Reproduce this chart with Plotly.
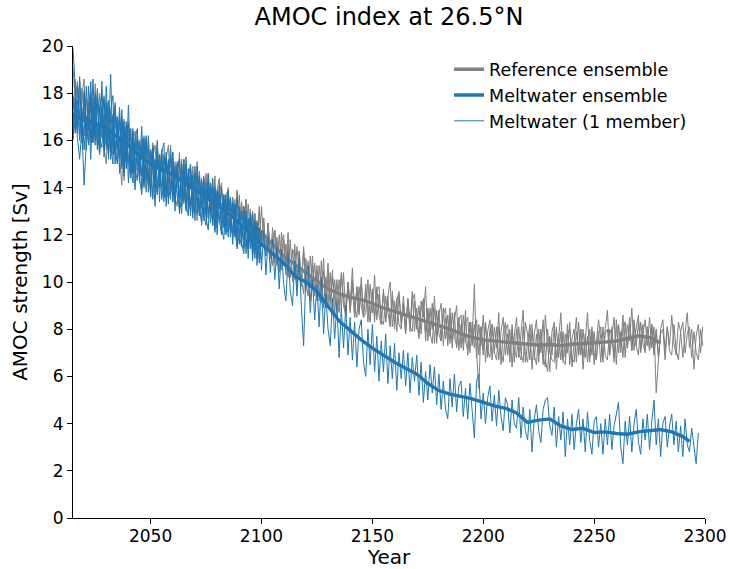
import plotly.graph_objects as go

# ---------------- data ----------------
gray_mean_years = list(range(2015, 2281, 5))
gray_mean = [17.4, 17.0, 16.75, 16.45, 16.15, 15.8, 15.35, 15.0, 14.8, 14.55,
             14.3, 14.0, 13.7, 13.4, 13.1, 12.8, 12.45, 12.1, 11.6, 11.1,
             10.75, 10.4, 10.05, 9.7, 9.5, 9.35, 9.25, 9.1, 8.9, 8.75,
             8.6, 8.45, 8.3, 8.15, 8.0, 7.8, 7.65, 7.55, 7.5, 7.45,
             7.42, 7.38, 7.32, 7.35, 7.3, 7.36, 7.38, 7.42, 7.45, 7.5,
             7.62, 7.72, 7.65, 7.4]

blue_mean_years = list(range(2015, 2291, 5)) + [2293]
blue_mean = [17.1, 16.85, 16.7, 16.55, 16.15, 15.8, 15.35, 15.0, 14.75, 14.55,
             14.2, 13.9, 13.6, 13.25, 12.9, 12.5, 12.05, 11.6, 11.2, 10.8,
             10.25, 10.0, 9.6, 8.95, 8.35, 7.95, 7.55, 7.2, 6.9, 6.6,
             6.35, 6.1, 5.7, 5.4, 5.25, 5.15, 5.05, 4.9, 4.75, 4.65,
             4.45, 4.05, 4.15, 4.2, 3.9, 3.75, 3.8, 3.62, 3.65, 3.58,
             3.55, 3.65, 3.7, 3.75, 3.65, 3.45, 3.25]

# reference ensemble members, yearly from 2015
ref_member_1 = [
    19.1, 17.6, 18.5, 16.4, 18.2, 16.9, 17.8, 15.9, 17.6, 16.2,
    18.4, 15.8, 17.5, 16.1, 17.9, 15.6, 17.2, 15.3, 16.9, 17.5,
    15.1, 16.9, 14.8, 16.6, 15.3, 16.8, 14.5, 16.2, 14.9, 16.3,
    14.2, 16.1, 15.0, 13.9, 16.0, 14.6, 15.7, 13.8, 15.9, 14.4,
    15.6, 13.7, 15.3, 14.2, 15.8, 13.4, 15.1, 14.0, 15.5, 13.6,
    15.2, 13.3, 14.6, 13.0, 14.9, 13.8, 12.6, 14.7, 13.1, 14.5,
    12.8, 14.6, 13.2, 14.3, 12.5, 13.9, 14.4, 12.3, 13.7, 12.7,
    14.0, 12.4, 13.6, 12.0, 13.9, 12.6, 13.3, 11.8, 13.5, 12.2,
    13.0, 11.6, 12.9, 11.8, 13.2, 11.5, 12.7, 11.2, 12.5, 11.0,
    12.3, 10.8, 11.9, 10.5, 12.1, 10.7, 11.6, 10.2, 11.8, 10.0,
    11.6, 10.2, 11.3, 9.8, 11.5, 10.0, 9.4, 11.1, 9.7, 10.8,
    9.2, 10.7, 9.6, 11.0, 8.9, 10.3, 9.1, 10.5, 8.6, 10.1,
    8.8, 10.4, 9.3, 8.6, 10.0, 9.1, 10.6, 8.5, 9.8, 8.7,
    10.2, 8.6, 9.6, 8.3, 9.9, 8.7, 10.3, 8.4, 9.5, 8.2,
    9.7, 8.3, 9.4, 10.0, 8.1, 9.2, 7.9, 9.5, 8.4, 9.1,
    7.8, 9.3, 8.2, 9.6, 7.9, 8.9, 7.6, 9.2, 8.5, 9.8,
    7.5, 8.9, 8.0, 9.4, 7.4, 8.6, 9.1, 7.3, 8.5, 7.6,
    8.9, 7.2, 8.4, 9.0, 7.1, 8.2, 7.4, 8.8, 6.9, 8.3,
    7.5, 9.9, 6.8, 8.2, 7.3, 8.6, 6.6, 7.9, 8.4, 6.7,
    8.1, 7.2, 8.7, 6.5, 7.8, 8.3, 6.9, 8.0, 6.4, 7.7,
    8.5, 6.8, 7.9, 8.8, 6.6, 7.5, 8.2, 6.3, 7.8, 8.4,
    6.9, 8.0, 6.5, 8.6, 7.2, 6.2, 7.9, 8.3, 6.8, 7.6,
    8.7, 6.6, 7.8, 7.0, 8.3, 6.4, 7.5, 8.5, 6.9, 8.0,
    6.3, 7.6, 8.7, 6.8, 7.9, 6.5, 7.4, 8.4, 7.6, 6.6,
    8.0, 8.8, 6.9, 7.7, 8.5, 6.5, 8.1, 7.3, 8.6, 6.8,
    8.2, 7.5, 8.9, 7.1, 8.1, 8.6, 7.0, 7.8, 8.4, 7.3,
    8.5, 7.2, 8.1, 5.3, 6.9, 8.0, 8.4, 7.1, 8.1, 7.3,
    8.6, 7.4, 6.9, 8.3, 7.9, 6.8, 7.8, 8.7, 7.2, 8.0,
    6.3, 7.7, 8.2, 7.0, 8.1]

ref_member_2 = [
    17.3, 18.6, 16.7, 17.9, 15.9, 18.0, 16.4, 17.6, 15.8, 17.3,
    16.0, 17.9, 15.5, 17.4, 16.3, 17.0, 15.4, 17.2, 15.7, 16.5,
    17.0, 15.2, 16.6, 14.3, 16.4, 15.0, 16.5, 14.6, 16.1, 15.2,
    14.4, 16.0, 14.9, 13.8, 15.7, 14.3, 15.9, 14.0, 15.3, 14.5,
    15.6, 13.6, 15.2, 15.8, 13.9, 15.0, 13.4, 14.9, 13.7, 15.2,
    13.5, 14.7, 13.1, 15.0, 13.3, 14.6, 13.6, 12.8, 14.4, 13.3,
    14.6, 12.7, 14.2, 13.0, 14.5, 12.5, 13.8, 14.2, 12.3, 13.7,
    13.9, 12.1, 13.6, 12.5, 13.8, 11.9, 13.4, 12.4, 13.5, 11.8,
    13.1, 11.6, 12.9, 11.9, 11.4, 13.2, 11.7, 11.1, 12.5, 11.0,
    11.9, 12.2, 10.7, 12.0, 10.5, 11.8, 10.6, 12.1, 10.2, 11.4,
    10.1, 11.5, 10.4, 9.9, 11.3, 9.6, 10.9, 9.8, 11.1, 9.4,
    10.7, 9.7, 9.1, 10.5, 9.4, 10.8, 9.0, 10.2, 9.3, 8.8,
    10.1, 8.9, 10.4, 8.6, 9.9, 8.7, 10.1, 9.0, 8.5, 9.8,
    9.0, 8.5, 9.9, 8.8, 8.3, 9.7, 8.6, 9.6, 9.8, 8.4,
    8.2, 9.4, 8.7, 8.1, 9.6, 8.3, 9.3, 8.2, 8.0, 9.4,
    8.1, 9.1, 7.9, 9.2, 9.5, 8.0, 9.0, 7.8, 9.3, 7.9,
    8.9, 7.7, 9.1, 7.4, 8.8, 7.8, 7.5, 8.9, 7.6, 8.6,
    7.4, 8.7, 7.7, 7.3, 8.5, 7.2, 8.6, 7.5, 7.1, 8.3,
    7.3, 8.2, 7.0, 5.5, 8.1, 6.9, 8.3, 7.1, 6.8, 8.2,
    7.0, 8.1, 6.7, 7.9, 8.5, 6.9, 7.8, 6.6, 8.2, 7.1,
    6.8, 8.1, 7.0, 6.6, 8.3, 7.8, 6.7, 8.0, 6.9, 6.5,
    8.0, 7.0, 8.4, 6.7, 6.2, 7.7, 6.9, 8.1, 6.3, 7.8,
    6.7, 7.9, 6.8, 8.2, 6.5, 7.6, 8.0, 6.6, 8.3, 6.9,
    8.0, 6.8, 7.7, 6.6, 8.1, 7.0, 6.7, 7.9, 6.6, 8.1,
    6.9, 6.7, 8.0, 7.7, 6.6, 8.4, 7.0, 7.9, 6.8, 8.3,
    7.2, 8.5, 7.1, 8.2, 7.3, 6.9, 8.3, 7.4, 7.0, 8.1,
    7.1, 8.2, 6.9, 7.9, 6.8, 7.8, 8.0, 6.7, 8.1, 7.1,
    6.9, 8.2, 7.1, 6.7, 7.9, 8.3, 7.0, 7.8, 8.1, 6.8,
    7.9, 7.0, 6.7, 8.0, 7.3]

ref_member_3 = [
    16.5, 17.8, 18.4, 16.1, 17.9, 18.6, 16.2, 17.5, 18.1, 15.9,
    17.4, 15.8, 18.0, 16.6, 15.7, 15.0, 17.2, 15.6, 17.1, 15.5,
    16.6, 15.3, 14.1, 16.9, 15.2, 16.5, 14.4, 15.9, 16.4, 14.7,
    15.9, 14.5, 16.2, 14.1, 15.6, 13.6, 15.3, 15.8, 14.2, 14.0,
    15.3, 14.1, 13.5, 15.1, 13.9, 15.5, 13.6, 13.2, 14.9, 13.8,
    13.3, 15.0, 13.7, 13.0, 14.6, 13.4, 15.1, 13.1, 14.3, 12.9,
    13.1, 14.5, 13.0, 12.6, 14.1, 12.8, 14.2, 12.3, 13.7, 12.5,
    13.8, 12.4, 12.0, 13.5, 12.2, 13.7, 11.8, 13.2, 12.1, 13.3,
    11.7, 13.0, 11.8, 11.4, 13.0, 11.5, 12.7, 11.1, 12.4, 11.3,
    10.7, 12.2, 11.0, 10.4, 11.7, 12.0, 10.3, 11.6, 10.2, 11.4,
    11.1, 9.7, 11.3, 10.1, 9.5, 11.0, 9.8, 9.2, 10.7, 9.5,
    10.5, 9.2, 10.9, 8.9, 10.2, 9.0, 10.4, 8.8, 10.1, 9.0,
    8.7, 10.3, 9.0, 8.6, 10.0, 8.8, 9.9, 8.5, 9.8, 8.6,
    9.9, 8.5, 8.7, 10.1, 8.4, 9.6, 8.3, 9.8, 8.6, 8.2,
    9.6, 8.3, 9.4, 8.2, 9.3, 8.0, 9.2, 9.6, 8.1, 9.1,
    7.8, 9.3, 8.1, 7.9, 9.2, 8.2, 7.7, 8.9, 9.2, 7.5,
    8.8, 7.8, 7.4, 8.9, 7.7, 8.8, 7.5, 8.6, 8.9, 7.3,
    8.5, 7.5, 8.7, 7.2, 8.4, 8.6, 7.1, 8.3, 8.5, 7.0,
    8.3, 7.2, 8.4, 6.9, 8.1, 7.1, 8.3, 6.8, 8.0, 8.2,
    7.0, 6.7, 8.1, 7.1, 6.6, 8.0, 8.2, 6.9, 7.9, 6.6,
    8.0, 7.0, 6.7, 8.1, 6.9, 6.6, 7.9, 8.2, 6.7, 7.8,
    6.6, 7.9, 6.9, 6.4, 8.0, 7.0, 6.7, 6.6, 8.1, 6.8,
    7.9, 6.7, 6.5, 7.8, 8.0, 6.8, 6.6, 7.9, 6.9, 8.0,
    6.8, 7.8, 6.6, 8.0, 6.9, 7.9, 6.7, 7.8, 8.1, 6.8,
    7.8, 8.0, 6.9, 8.1, 6.8, 7.9, 8.2, 7.0, 8.0, 8.3,
    7.2, 8.2, 7.1, 8.4, 7.3, 8.3, 7.2, 8.2, 7.1, 8.1,
    7.1, 8.2, 7.0, 8.0, 6.9, 7.9]

# meltwater members, yearly from 2015
melt_member_long = [
    19.9, 18.4, 16.6, 18.5, 16.2, 17.8, 15.6, 18.3, 16.1, 18.6,
    16.3, 18.1, 15.5, 18.5, 15.9, 17.6, 15.2, 17.3, 17.9, 15.0,
    16.9, 14.6, 17.3, 15.1, 16.6, 14.2, 16.5, 14.8, 13.9, 16.3,
    14.4, 13.7, 16.1, 14.3, 16.2, 13.6, 15.7, 14.0, 16.0, 13.4,
    15.5, 15.9, 13.2, 15.2, 13.7, 15.5, 13.0, 15.0, 13.5, 12.9,
    15.2, 13.1, 14.8, 12.8, 14.5, 12.6, 14.9, 13.2, 12.5, 14.4,
    12.7, 12.2, 14.2, 12.4, 14.0, 12.0, 13.8, 12.3, 11.8, 13.7,
    11.9, 13.6, 11.6, 13.3, 11.4, 13.1, 11.7, 11.2, 13.0, 11.0,
    12.7, 10.9, 12.5, 10.7, 12.3, 10.5, 12.2, 10.3, 11.9, 10.4,
    11.8, 10.1, 11.5, 9.7, 11.4, 9.9, 9.2, 11.2, 9.6, 9.0,
    10.9, 9.4, 11.0, 8.9, 7.3, 10.3, 10.7, 8.7, 10.1, 8.4,
    9.9, 8.1, 10.2, 7.8, 9.5, 8.0, 7.3, 9.3, 7.6, 9.1,
    6.8, 8.9, 7.2, 9.0, 6.9, 8.5, 6.7, 8.3, 6.4, 8.0,
    8.4, 6.6, 6.0, 8.0, 6.5, 8.2, 6.2, 7.7, 5.8, 7.5,
    6.2, 7.8, 5.7, 7.3, 5.9, 7.4, 5.4, 7.0, 5.9, 7.1,
    5.6, 7.0, 5.3, 6.8, 5.8, 6.9, 5.2, 6.6, 4.9, 6.2,
    5.0, 6.5, 5.3, 6.4, 4.8, 6.1, 4.6, 5.8, 4.6, 4.2,
    5.9, 4.7, 6.1, 4.5, 5.6, 5.8, 4.3, 5.5, 4.2, 5.7,
    4.6, 3.4, 5.8, 6.1, 4.2, 5.3, 4.0, 5.1, 5.6, 4.1,
    5.2, 3.9, 5.4, 4.3, 3.7, 5.1, 4.8, 3.6, 5.0, 4.0,
    3.8, 5.1, 3.4, 4.7, 3.7, 3.3, 4.6, 2.8, 4.2, 4.8,
    3.7, 3.2, 4.6, 5.0, 5.1, 3.9, 3.5, 4.7, 3.0, 4.3,
    3.3, 4.5, 2.6, 4.2, 3.1, 4.4, 2.9, 4.0, 4.6, 3.2,
    4.2, 2.8, 4.5, 3.3, 2.7, 4.1, 4.3, 3.0, 4.0, 2.7,
    4.2, 3.1, 4.4, 2.9, 3.9, 4.5, 4.9, 3.0, 2.3, 4.1,
    3.1, 4.3, 2.8, 4.0, 4.6, 3.2, 2.7, 4.2, 3.3, 4.4,
    2.9, 4.1, 5.0, 3.1, 4.2, 2.6, 4.0, 4.3, 3.0, 3.9,
    4.4, 3.1, 4.1, 2.8, 3.9, 2.6, 4.2, 3.1, 2.8, 3.8,
    2.9, 2.3, 3.6]

melt_member_a = [
    16.0, 17.6, 16.1, 15.2, 16.5, 14.1, 15.9, 17.3, 15.2, 17.8,
    15.8, 18.2, 16.2, 17.4, 15.6, 18.3, 16.0, 18.8, 15.4, 17.6,
    15.6, 17.4, 14.9, 16.8, 15.1, 17.5, 14.7, 16.4, 14.2, 16.2,
    14.9, 16.6, 14.1, 15.9, 13.8, 15.6, 14.9, 13.2, 15.7, 14.0,
    15.6, 13.6, 15.2, 13.3, 15.4, 13.9, 13.5, 15.1, 12.9, 15.0,
    13.4, 15.3, 13.1, 14.6, 12.7, 14.9, 13.0, 14.4, 12.4, 14.3,
    12.9, 14.6, 12.5, 14.0, 12.2, 13.9, 12.6, 12.0, 13.7, 12.1,
    13.9, 11.9, 13.4, 12.2, 11.5, 13.2, 11.8, 13.1, 11.2, 12.7,
    11.4, 12.9, 11.0, 12.5, 10.8, 12.1]

melt_member_b = [
    17.9, 16.5, 18.3, 16.9, 15.9, 18.1, 16.7, 15.8, 17.9, 16.4,
    17.7, 15.6, 17.3, 18.0, 15.3, 16.9, 17.7, 15.2, 17.0, 15.7,
    15.0, 17.1, 15.5, 14.7, 16.8, 15.1, 14.4, 16.5, 14.8, 14.3,
    16.0, 13.9, 15.5, 16.1, 14.1, 15.6, 13.5, 15.2, 13.8, 15.4,
    14.0, 13.4, 15.5, 14.0, 13.5, 15.1, 13.3, 14.7, 15.2, 13.2,
    14.7, 13.0, 14.4, 15.0, 12.9, 13.4, 14.6, 12.8, 14.3, 12.6,
    14.2, 12.7, 14.0, 12.4, 13.8, 12.3, 14.1, 12.1, 13.5, 12.4,
    12.1, 13.6, 11.9, 13.3, 12.2, 11.6, 13.0, 11.4, 12.8, 11.5,
    12.7, 11.2, 12.6, 11.0, 12.3, 10.9]

melt_member_c = [
    16.1, 17.8, 16.3, 18.7, 16.9, 16.2, 18.3, 16.5, 18.5, 16.0,
    18.0, 16.4, 15.4, 17.1, 17.8, 15.8, 17.4, 15.9, 15.0, 17.3,
    16.0, 15.3, 17.0, 14.5, 16.3, 16.7, 15.0, 14.2, 16.1, 16.5,
    14.4, 15.7, 14.0, 16.2, 14.6, 13.8, 15.8, 14.5, 13.7, 15.1,
    13.5, 15.4, 14.2, 13.6, 15.6, 13.4, 14.9, 13.7, 13.1, 14.8,
    14.5, 13.3, 12.8, 14.8, 13.5, 13.1, 12.9, 14.5, 13.3, 12.9,
    12.4, 14.1, 12.9, 14.4, 12.1, 13.8, 12.5, 14.0, 12.4, 12.0,
    13.5, 12.2, 13.3, 11.9, 13.6, 12.0, 11.5, 13.2, 11.8, 11.4,
    12.9, 11.5, 11.2, 12.6, 11.0, 12.2]

melt_member_d = [
    17.2, 16.3, 17.7, 16.0, 17.4, 15.6, 17.0, 16.4, 17.8, 15.9,
    16.9, 17.6, 16.1, 15.7, 17.1, 16.3, 15.5, 17.0, 16.6, 15.4,
    17.0, 15.9, 15.2, 16.4, 14.8, 16.1, 15.7, 14.6, 15.9, 15.0,
    15.3, 14.5, 15.9, 14.8, 14.2, 15.6, 14.9, 14.1, 15.2, 14.3,
    14.9, 14.4, 13.8, 15.0, 14.6, 13.9, 14.3, 14.9, 13.6, 14.0,
    13.7, 14.5, 14.0, 13.3, 14.2, 13.9, 13.4, 13.0, 14.1, 13.5,
    13.2, 13.8, 12.9, 13.5, 13.1, 12.7, 13.4, 12.9, 12.5, 13.1,
    12.7, 12.3, 13.1, 12.5, 12.0, 12.6, 12.3, 11.8, 12.4, 11.9,
    11.7, 12.3, 11.5, 11.9, 11.4, 11.6]

START_YEAR = 2015
GRAY = "#808080"
BLUE = "#1f77b4"


def years_for(series):
    return list(range(START_YEAR, START_YEAR + len(series)))


fig = go.Figure()

# reference members (thin grey)
for m in (ref_member_1, ref_member_2, ref_member_3):
    fig.add_trace(go.Scatter(x=years_for(m), y=m, mode="lines",
                             line=dict(color=GRAY, width=1),
                             showlegend=False, hoverinfo="skip"))

# reference ensemble mean (thick grey)
fig.add_trace(go.Scatter(x=gray_mean_years, y=gray_mean, mode="lines",
                         line=dict(color=GRAY, width=3.4),
                         name="Reference ensemble", hoverinfo="skip"))

# meltwater members (thin blue)
for m in (melt_member_a, melt_member_b, melt_member_c, melt_member_d):
    fig.add_trace(go.Scatter(x=years_for(m), y=m, mode="lines",
                             line=dict(color=BLUE, width=1),
                             showlegend=False, hoverinfo="skip"))

# meltwater ensemble mean (thick blue)
fig.add_trace(go.Scatter(x=blue_mean_years, y=blue_mean, mode="lines",
                         line=dict(color=BLUE, width=3.4),
                         name="Meltwater ensemble", hoverinfo="skip"))

# single meltwater member (thin blue, long)
fig.add_trace(go.Scatter(x=years_for(melt_member_long), y=melt_member_long,
                         mode="lines", line=dict(color=BLUE, width=1),
                         name="Meltwater (1 member)", hoverinfo="skip"))

FONT = "DejaVu Sans"
fig.update_layout(
    width=729, height=569,
    margin=dict(l=73, r=24, t=46, b=51, autoexpand=False),
    paper_bgcolor="white", plot_bgcolor="white",
    font=dict(family=FONT, size=17, color="black"),
    title=dict(text="AMOC index at 26.5°N", xref="paper", x=0.5, xanchor="center",
               yref="container", y=0.970, yanchor="middle",
               font=dict(size=24, family=FONT)),
    legend=dict(x=0.595, y=0.9885, xanchor="left", yanchor="top",
                bgcolor="rgba(0,0,0,0)", borderwidth=0,
                font=dict(size=17.5, family=FONT),
                traceorder="normal", tracegroupgap=0),
    xaxis=dict(range=[2015, 2300], tickvals=[2050, 2100, 2150, 2200, 2250, 2300],
               showgrid=False, zeroline=False, showline=True, linecolor="black",
               linewidth=1.2, ticks="outside", ticklen=5, tickwidth=1.2,
               tickcolor="black", tickfont=dict(size=17), automargin=False,
               ticklabelstandoff=-3,
               title=dict(text="Year", font=dict(size=20), standoff=5)),
    yaxis=dict(range=[0, 20], tickvals=list(range(0, 21, 2)),
               showgrid=False, zeroline=False, showline=True, linecolor="black",
               linewidth=1.2, ticks="outside", ticklen=5, tickwidth=1.2,
               tickcolor="black", tickfont=dict(size=17), automargin=False,
               title=dict(text="AMOC strength [Sv]", font=dict(size=20), standoff=8)),
)

# remove the default page margin so the 729x569 figure fills the window exactly
fig.write_html("out.html",
               config={"displayModeBar": False},
               post_script="document.body.style.margin='0';"
                           "document.body.style.overflow='hidden';")
